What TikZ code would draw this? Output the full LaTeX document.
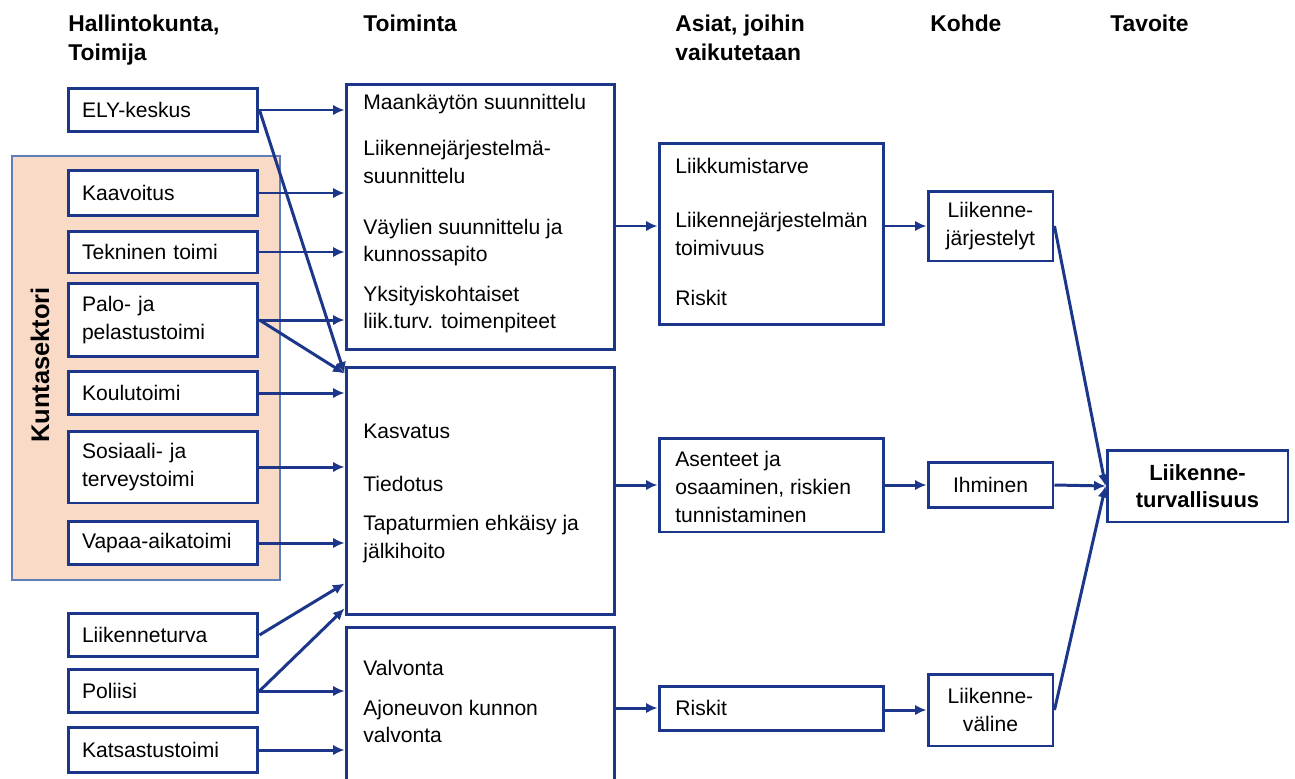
\documentclass[tikz,border=0pt]{standalone}
\usepackage{fontspec}
\setmainfont{Liberation Sans}
\usepackage{xcolor}
\usetikzlibrary{calc,arrows.meta}
\definecolor{ublue}{RGB}{28,54,138}
\definecolor{kpeach}{RGB}{248,218,198}
\definecolor{kframe}{RGB}{95,125,185}

\begin{document}
\begin{tikzpicture}[x=0.02cm,y=-0.02cm]
        \tikzstyle{every node}=[font=\fontsize{12pt}{15.8pt}\selectfont]
        \tikzstyle{box}=[draw=ublue, line width=1.7pt, fill=white, inner sep=0pt]
        \tikzstyle{orgbox}=[box, minimum width=3.8cm, text width=3.24cm, inner xsep=0.28cm, align=left]
        \tikzstyle{item}=[anchor=west, inner sep=0pt, align=left]
        \tikzstyle{head}=[anchor=north west, inner sep=0pt, align=left, font=\bfseries\fontsize{13pt}{16.5pt}\selectfont]
        \tikzstyle{arr}=[ublue, line width=1.7pt, -{Latex[length=2.3mm,width=2.1mm]}]
        \useasboundingbox (0,0) rectangle (1295,778);
        % Kuntasektori
        \node[draw=kframe, line width=0.8pt, fill=kpeach, minimum width=5.36cm, minimum height=8.48cm, inner sep=0pt] (kunta) at (146,368) {};
        \node[rotate=90, font=\bfseries\fontsize{14.5pt}{17pt}\selectfont] (kuntalbl) at (40,365) {Kuntasektori};
        % Hallintokunta, Toimija
        \node[orgbox, minimum height=0.86cm] (ely) at (163,110) {ELY-keskus};
        \node[orgbox, minimum height=0.9cm] (kaav) at (163,193) {Kaavoitus};
        \node[orgbox, minimum height=0.84cm] (tekn) at (163,252) {Tekninen toimi};
        \node[orgbox, minimum height=1.46cm] (palo) at (163,320) {Palo- ja\\pelastustoimi};
        \node[orgbox, minimum height=0.86cm] (koulu) at (163,393) {Koulutoimi};
        \node[orgbox, minimum height=1.44cm] (sos) at (163,467) {Sosiaali- ja\\terveystoimi};
        \node[orgbox, minimum height=0.86cm] (vapaa) at (163,543) {Vapaa-aikatoimi};
        \node[orgbox, minimum height=0.86cm] (lturva) at (163,635) {Liikenneturva};
        \node[orgbox, minimum height=0.86cm] (pol) at (163,691) {Poliisi};
        \node[orgbox, minimum height=0.9cm] (kats) at (163,750) {Katsastustoimi};
        % Toiminta
        \node[box, minimum width=5.38cm, minimum height=5.32cm] (act1) at (480.5,217) {};
        \node[box, minimum width=5.38cm, minimum height=4.96cm] (act2) at (480.5,491) {};
        \node[box, minimum width=5.38cm, minimum height=3.64cm] (act3) at (480.5,718) {};
        \node[item] (plan1) at (363,104) {Maankäytön suunnittelu};
        \node[item] (plan2) at (363,162) {Liikennejärjestelmä-\\suunnittelu};
        \node[item] (plan3) at (363,242.5) {Väylien suunnittelu ja\\kunnossapito};
        \node[item] (plan4) at (363,309.5) {Yksityiskohtaiset\\liik.turv. toimenpiteet};
        \node[item] (edu1) at (363,431) {Kasvatus};
        \node[item] (edu2) at (363,484) {Tiedotus};
        \node[item] (edu3) at (363,539) {Tapaturmien ehkäisy ja\\jälkihoito};
        \node[item] (ctrl1) at (363,668) {Valvonta};
        \node[item] (ctrl2) at (363,721.5) {Ajoneuvon kunnon\\valvonta};
        % Asiat, joihin vaikutetaan
        \node[box, minimum width=4.5cm, minimum height=3.64cm] (aff1) at (771.5,234) {};
        \node[box, minimum width=4.5cm, minimum height=1.88cm] (aff2) at (771.5,485) {};
        \node[box, minimum width=4.5cm, minimum height=0.88cm] (aff3) at (771.5,708) {};
        \node[item] (need1) at (675,166) {Liikkumistarve};
        \node[item] (need2) at (675,234) {Liikennejärjestelmän\\toimivuus};
        \node[item] (need3) at (675,298) {Riskit};
        \node[item] (att) at (675,487) {Asenteet ja\\osaaminen, riskien\\tunnistaminen};
        \node[item] (risk) at (675,708) {Riskit};
        % Kohde, Tavoite
        \node[box, minimum width=2.5cm, minimum height=1.4cm, align=center] (jarj) at (990.5,226) {Liikenne-\\järjestelyt};
        \node[box, minimum width=2.5cm, minimum height=0.9cm, align=center] (ihm) at (990.5,485) {Ihminen};
        \node[box, minimum width=2.5cm, minimum height=1.44cm, align=center] (vali) at (990.5,710) {Liikenne-\\väline};
        \node[box, minimum width=3.62cm, minimum height=1.44cm, align=center, font=\bfseries\fontsize{12.5pt}{15.5pt}\selectfont] (goal) at (1197.5,486) {Liikenne-\\turvallisuus};
        % Headers
        \node[head] (h1) at (68,15) {Hallintokunta,\\Toimija};
        \node[head] (h2) at (363,15) {Toiminta};
        \node[head] (h3) at (675,15) {Asiat, joihin\\vaikutetaan};
        \node[head] (h4) at (930,15) {Kohde};
        \node[head] (h5) at (1110,15) {Tavoite};
        % Arrows into Toiminta
        \foreach \src in {ely,kaav,tekn,palo}
            \draw[arr] (\src.east) -- (\src.east -| act1.west);
        \foreach \src in {koulu,sos,vapaa}
            \draw[arr] (\src.east) -- (\src.east -| act2.west);
        \foreach \src in {pol,kats}
            \draw[arr] (\src.east) -- (\src.east -| act3.west);
        \coordinate (in2top) at ($(act2.north west)+(0,8)$);
        \coordinate (in2low) at ($(act2.south west)+(0,-33)$);
        \coordinate (in2bot) at ($(act2.south west)+(0,-8)$);
        \draw[arr] (ely.east) -- (in2top);
        \draw[arr] (palo.east) -- (in2top);
        \draw[arr] (lturva.east) -- (in2low);
        \draw[arr] (pol.east) -- (in2bot);
        % Arrows to the right
        \draw[arr] (act1.east |- jarj) -- (aff1.west |- jarj);
        \draw[arr] (act2.east |- aff2) -- (aff2.west);
        \draw[arr] (act3.east |- aff3) -- (aff3.west);
        \draw[arr] (aff1.east |- jarj) -- (jarj.west);
        \draw[arr] (aff2.east |- ihm) -- (ihm.west);
        \draw[arr] (aff3.east |- vali) -- (vali.west);
        \draw[arr] (jarj.east) -- (goal.west);
        \draw[arr] (ihm.east) -- (goal.west);
        \draw[arr] (vali.east) -- (goal.west);
    \end{tikzpicture}
\end{document}
